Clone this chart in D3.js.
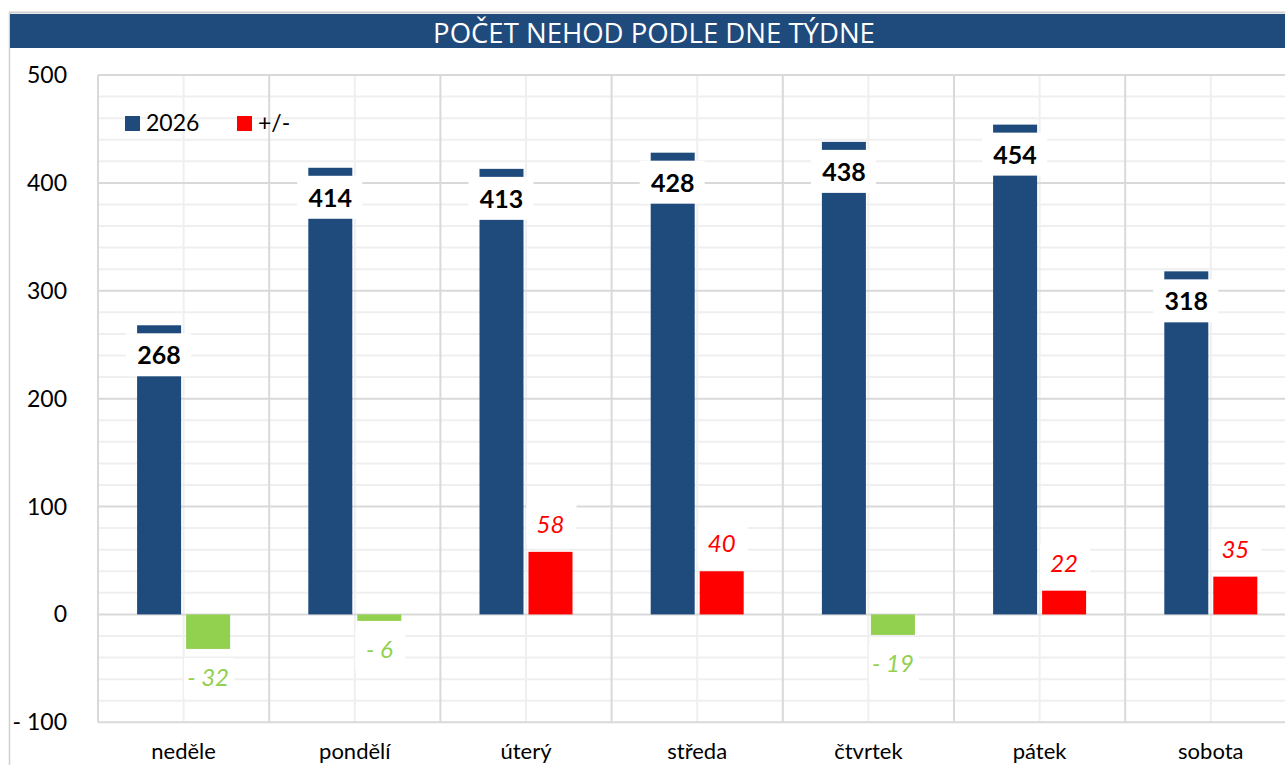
<!doctype html>
<html lang="cs">
<head>
<meta charset="utf-8">
<title>Počet nehod podle dne týdne</title>
<style>
  body { margin: 0; background: #fff; }
  svg { display: block; font-family: Lato, "Open Sans", sans-serif; }
  .grid-minor { stroke: #efefef; stroke-width: 2; }
  .grid-major { stroke: #d9d9d9; stroke-width: 2; }
</style>
</head>
<body>
<div id="chart"></div>
<script src="https://d3js.org/d3.v7.min.js"></script>
<script>
// data
const days = ['neděle', 'pondělí', 'úterý', 'středa', 'čtvrtek', 'pátek', 'sobota'];
const counts2026 = [268, 414, 413, 428, 438, 454, 318];
const diffs = [-32, -6, 58, 40, -19, 22, 35];
const yTicks = [-100, 0, 100, 200, 300, 400, 500];
const seriesNames = ['2026', '+/-'];

const width = 1285, height = 765;
const blue = '#1F4A7C', red = '#FF0000', green = '#92D050';

const svg = d3.select('#chart').append('svg')
  .attr('width', width)
  .attr('height', height);

// chart frame and title bar
svg.append('line').attr('x1', 9).attr('x2', width).attr('y1', 12.5).attr('y2', 12.5)
  .attr('stroke', '#d0d0d0').attr('stroke-width', 2);
svg.append('line').attr('x1', 9.5).attr('x2', 9.5).attr('y1', 12).attr('y2', height)
  .attr('stroke', '#d0d0d0').attr('stroke-width', 1.5);
svg.append('rect').attr('x', 10).attr('y', 14).attr('width', width - 10).attr('height', 34)
  .attr('fill', blue);
svg.append('text').attr('x', 654).attr('y', 43)
  .attr('text-anchor', 'middle').attr('fill', '#fff')
  .style('font-size', '27.5px').style('font-family', '"Open Sans", sans-serif')
  .text('POČET NEHOD PODLE DNE TÝDNE');

// scales
const plotLeft = 98, catW = 171.2;
const x = d3.scaleBand().domain(days).range([plotLeft, plotLeft + catW * days.length]);
const y = d3.scaleLinear().domain([-100, 500]).range([722.3, 75]);

// gridlines: minor every 20, major every 100
const g = svg.append('g');
g.selectAll('.grid-minor-h').data(d3.range(-100, 501, 20).filter(v => v % 100 !== 0))
  .join('line').attr('class', 'grid-minor')
  .attr('x1', plotLeft).attr('x2', width).attr('y1', d => y(d)).attr('y2', d => y(d));
g.selectAll('.grid-minor-v').data(days)
  .join('line').attr('class', 'grid-minor')
  .attr('x1', d => x(d) + catW / 2).attr('x2', d => x(d) + catW / 2)
  .attr('y1', y(500)).attr('y2', y(-100));
g.selectAll('.grid-major-h').data(yTicks)
  .join('line').attr('class', 'grid-major')
  .attr('x1', plotLeft).attr('x2', width).attr('y1', d => y(d)).attr('y2', d => y(d));
g.selectAll('.grid-major-v').data(days.concat(['end']))
  .join('line').attr('class', 'grid-major')
  .attr('x1', (d, i) => plotLeft + i * catW).attr('x2', (d, i) => plotLeft + i * catW)
  .attr('y1', y(500)).attr('y2', y(-100));

// y axis labels
svg.append('g').selectAll('text').data(yTicks).join('text')
  .attr('x', 67).attr('y', d => y(d) + 8)
  .attr('text-anchor', 'end').attr('fill', '#000')
  .style('font-size', '23px')
  .text(d => d < 0 ? '- ' + Math.abs(d) : d);

// x axis labels
svg.append('g').selectAll('text').data(days).join('text')
  .attr('x', d => x(d) + catW / 2).attr('y', 759)
  .attr('text-anchor', 'middle').attr('fill', '#000')
  .style('font-size', '22px')
  .text(d => d);

const barW = 44, gap = 5;

// 2026 bars
svg.append('g').selectAll('rect').data(counts2026).join('rect')
  .attr('x', (d, i) => x(days[i]) + catW / 2 - gap / 2 - barW)
  .attr('width', barW)
  .attr('y', d => y(d))
  .attr('height', d => y(0) - y(d))
  .attr('fill', blue);

// +/- bars
svg.append('g').selectAll('rect').data(diffs).join('rect')
  .attr('x', (d, i) => x(days[i]) + catW / 2 + gap / 2)
  .attr('width', barW)
  .attr('y', d => y(Math.max(0, d)))
  .attr('height', d => Math.abs(y(d) - y(0)))
  .attr('fill', d => d < 0 ? green : red);

// value labels for 2026 (inside the top, white box)
const lab = svg.append('g').selectAll('g').data(counts2026).join('g')
  .attr('transform', (d, i) => `translate(${x(days[i]) + catW / 2 - gap / 2 - barW / 2},${y(d) + 30})`);
lab.append('rect').attr('x', -33).attr('y', -22).attr('width', 65).attr('height', 43).attr('fill', '#fff');
lab.append('text').attr('y', 9).attr('text-anchor', 'middle')
  .style('font-size', '25px').style('font-weight', 'bold').attr('fill', '#000')
  .text(d => d);

// labels for +/-
const dlab = svg.append('g').selectAll('g').data(diffs).join('g')
  .attr('transform', (d, i) => {
    const cx = x(days[i]) + catW / 2 + gap / 2 + barW / 2;
    const cy = d < 0 ? y(d) + 29 : y(d) - 27;
    return `translate(${cx},${cy})`;
  });
dlab.append('rect').attr('x', -24).attr('y', -20).attr('width', 50).attr('height', 40).attr('fill', '#fff');
dlab.append('text').attr('y', 8).attr('text-anchor', 'middle')
  .style('font-size', '24px').style('font-style', 'italic')
  .attr('fill', d => d < 0 ? green : red)
  .text(d => d < 0 ? '- ' + Math.abs(d) : d);

// legend
const legend = svg.append('g').attr('transform', 'translate(125,116)');
const items = legend.selectAll('g').data(seriesNames).join('g')
  .attr('transform', (d, i) => `translate(${i * 112},0)`);
items.append('rect').attr('width', 15).attr('height', 15)
  .attr('fill', (d, i) => i === 0 ? blue : red);
items.append('text').attr('x', 21).attr('y', 15)
  .style('font-size', '23px').attr('fill', '#000')
  .text(d => d);
</script>
</body>
</html>
